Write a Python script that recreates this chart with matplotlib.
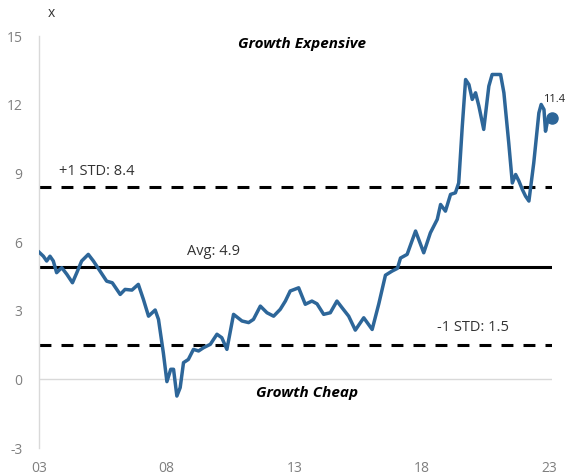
import matplotlib.pyplot as plt
import numpy as np

# P/E premium of growth over value (x)
years = [2003.00, 2003.17, 2003.30, 2003.43, 2003.56, 2003.69, 2003.89, 2004.09, 2004.31, 2004.48,
         2004.67, 2004.93, 2005.13, 2005.39, 2005.65, 2005.87, 2006.18, 2006.37, 2006.64, 2006.89,
         2007.09, 2007.29, 2007.55, 2007.68, 2007.87, 2008.01, 2008.16, 2008.27, 2008.40, 2008.53,
         2008.66, 2008.85, 2009.05, 2009.25, 2009.44, 2009.71, 2009.97, 2010.16, 2010.36, 2010.62,
         2010.95, 2011.21, 2011.40, 2011.67, 2011.93, 2012.19, 2012.45, 2012.65, 2012.84, 2013.17,
         2013.43, 2013.69, 2013.89, 2014.15, 2014.41, 2014.67, 2014.87, 2015.13, 2015.39, 2015.72,
         2016.05, 2016.31, 2016.57, 2016.83, 2017.04, 2017.16, 2017.42, 2017.75, 2018.07, 2018.33,
         2018.60, 2018.73, 2018.92, 2019.12, 2019.31, 2019.44, 2019.58, 2019.71, 2019.84, 2019.97,
         2020.10, 2020.23, 2020.42, 2020.62, 2020.75, 2021.08, 2021.21, 2021.40, 2021.54, 2021.67,
         2021.80, 2021.93, 2022.06, 2022.19, 2022.38, 2022.58, 2022.67, 2022.78, 2022.84, 2022.93,
         2023.11]
values = [5.56, 5.38, 5.17, 5.38, 5.17, 4.66, 4.88, 4.59, 4.22, 4.66,
          5.17, 5.46, 5.17, 4.73, 4.29, 4.22, 3.71, 3.93, 3.90, 4.15,
          3.49, 2.76, 3.03, 2.62, 1.16, -0.10, 0.44, 0.44, -0.73, -0.36,
          0.73, 0.87, 1.31, 1.24, 1.38, 1.53, 1.97, 1.82, 1.31, 2.84,
          2.55, 2.48, 2.62, 3.20, 2.91, 2.76, 3.06, 3.42, 3.86, 4.00,
          3.28, 3.42, 3.30, 2.84, 2.91, 3.42, 3.13, 2.76, 2.15, 2.69,
          2.18, 3.30, 4.55, 4.73, 4.85, 5.30, 5.46, 6.48, 5.53, 6.40,
          6.99, 7.64, 7.35, 8.08, 8.15, 8.58, 11.06, 13.10, 12.88, 12.23,
          12.52, 11.94, 10.92, 12.81, 13.32, 13.32, 12.52, 10.33, 8.58, 8.95,
          8.66, 8.30, 8.00, 7.79, 9.46, 11.64, 12.01, 11.79, 10.84, 11.35,
          11.43]

avg = 4.9
std_hi = 8.4
std_lo = 1.5
last_label = "11.4"

x_ticks = [2003, 2008, 2013, 2018, 2023]
x_labels = ["03", "08", "13", "18", "23"]
y_ticks = [-3, 0, 3, 6, 9, 12, 15]

plt.rcParams['font.family'] = ['Open Sans', 'DejaVu Sans']
plt.rcParams['axes.unicode_minus'] = False

fig = plt.figure(figsize=(5.67, 4.76), dpi=100)
ax = fig.add_axes([0.0688, 0.0588, 0.905, 0.8655])

line_col = '#2D6699'
grid_col = '#D9D9D9'

ax.axhline(0, color=grid_col, lw=1, zorder=1)
ax.axhline(avg, color='black', lw=2.2, zorder=2)
ax.axhline(std_hi, color='black', lw=2.2, dashes=(3.9, 3.3), zorder=2)
ax.axhline(std_lo, color='black', lw=2.2, dashes=(3.9, 3.3), zorder=2)

ax.plot(years, values, color=line_col, lw=2.5, zorder=3, solid_joinstyle='round')
ax.plot(years[-1], values[-1], 'o', color=line_col, ms=8, zorder=4, clip_on=False)

ax.text(years[-1] + 0.05, values[-1] + 0.55, last_label, fontsize=8, color='#222222',
        ha='center', va='bottom')

ax.text(2003.8, std_hi + 0.35, "+1 STD: %.1f" % std_hi, fontsize=10.5, color='#333333', va='bottom')
ax.text(2008.8, avg + 0.35, "Avg: %.1f" % avg, fontsize=10.5, color='#333333', va='bottom')
ax.text(2018.6, std_lo + 0.45, "-1 STD: %.1f" % std_lo, fontsize=10.5, color='#333333', va='bottom')

ax.text(2013.3, 14.65, "Growth Expensive", fontsize=11, style='italic', weight='bold',
        ha='center', va='center')
ax.text(2013.5, -0.6, "Growth Cheap", fontsize=11, style='italic', weight='bold',
        ha='center', va='center')

fig.text(0.085, 0.972, "x", fontsize=10, color='#333333', ha='left', va='center')

ax.set_xlim(2003, 2023.1)
ax.set_ylim(-3, 15)
ax.set_xticks(x_ticks)
ax.set_xticklabels(x_labels)
ax.set_yticks(y_ticks)
ax.tick_params(length=0, colors='#7F7F7F', labelsize=10)
ax.tick_params(axis='y', pad=12)
ax.tick_params(axis='x', pad=9)

for s in ['top', 'right', 'bottom']:
    ax.spines[s].set_visible(False)
ax.spines['left'].set_color(grid_col)
ax.spines['left'].set_linewidth(1)

fig.savefig('out.png', dpi=100)
